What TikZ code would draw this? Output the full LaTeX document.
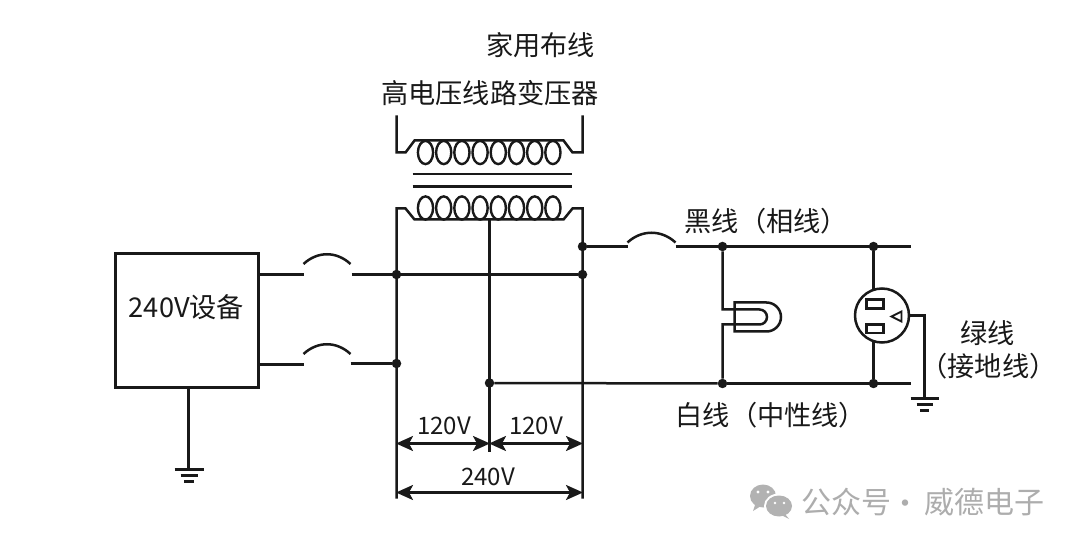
\documentclass[tikz,border=0pt]{standalone}
\usepackage{fontspec}
\setmainfont{Noto Sans CJK SC}
\usetikzlibrary{arrows.meta}
\tikzset{
  wire/.style={line width=2.5pt,line cap=butt,line join=miter,black!90},
  thin wire/.style={line width=2.4pt,black!90},
  dot/.style={circle,fill=black!90,inner sep=0pt,minimum size=9.5pt},
  lbl/.style={inner sep=0pt,font=\fontsize{27.2}{30}\selectfont,text=black!90},
  dimlabel/.style={font=\fontsize{24}{28}\selectfont,inner sep=0pt,text=black!90},
  dimline/.style={line width=2.5pt,black!90,{Stealth[length=17pt,width=15pt,inset=4pt]}-{Stealth[length=17pt,width=15pt,inset=4pt]},shorten >=-0.5pt,shorten <=-0.5pt},
  wmark/.style={font=\fontsize{30}{32}\selectfont,inner sep=0pt,text=black!32},
}
\begin{document}
\begin{tikzpicture}[x=1pt,y=-1pt]
\useasboundingbox (0,0) rectangle (1080,545);
\fill[white] (0,0) rectangle (1080,545);
% labels
\node[lbl] (tHome) at (540.5,45) {家用布线};
\node[lbl] (tTrans) at (490,93) {高电压线路变压器};
\node[lbl] (tDev) at (186.5,307) {240V设备};
\node[lbl,anchor=west] (tBlack) at (684.5,221) {黑线（相线）};
\node[lbl,anchor=west] (tWhite) at (675.5,415) {白线（中性线）};
\node[lbl] (tGreen) at (987.5,333) {绿线};
\node[lbl] (tGnd) at (988.5,366) {（接地线）};
\node[dimlabel] (t120a) at (444,426) {120V};
\node[dimlabel] (t120b) at (536,426) {120V};
\node[dimlabel] (t240) at (488,477) {240V};
\begin{scope}[shift={(0.5,0.5)}]
% junctions
\node[dot] (jA) at (396,274) {};
\node[dot] (jB) at (396,363) {};
\node[dot] (jC) at (582,246) {};
\node[dot] (jD) at (582,274) {};
\node[dot] (jE) at (489,382.5) {};
\node[dot] (jF) at (722,246) {};
\node[dot] (jG) at (873,246) {};
\node[dot] (jH) at (722,383) {};
\node[dot] (jI) at (873,383) {};
% device box
\node[draw,line width=2.5pt,black!90,minimum width=143pt,minimum height=134pt,inner sep=0pt,outer sep=0pt,anchor=north west] (dev) at (115,253) {};
% upper winding
\coordinate (uL) at (396,115); \coordinate (uR) at (582,115);
\draw[wire] (uL) -- (396,152) -- (405,152) -- (414,140) -- (563,140) -- (572,152) -- (582,152) -- (uR);
\foreach \i in {0,...,7} \draw[thin wire] ({425+18.2*\i},152) ellipse (7.6 and 11.6);
% core
\coordinate (c1a) at (412,173.5); \coordinate (c1b) at (571,173.5);
\coordinate (c2a) at (412,186); \coordinate (c2b) at (571,186);
\draw[wire] (c1a) -- (c1b);
\draw[wire] (c2a) -- (c2b);
% lower winding
\coordinate (lL) at (396,498); \coordinate (lR) at (582,498); \coordinate (lM) at (489,219); \coordinate (lMe) at (489,452);
\draw[wire] (lL) -- (396,208) -- (405,208) -- (414,219) -- (563,219) -- (572,208) -- (582,208) -- (lR);
\foreach \i in {0,...,7} \draw[thin wire] ({425+18.2*\i},207.5) ellipse (7.6 and 11.6);
\draw[wire] (lM) -- (lMe);
% 240V feed with fuses
\coordinate (f1a) at (303,274); \coordinate (f1b) at (351,274);
\coordinate (f2a) at (303,364); \coordinate (f2b) at (350,363);
\draw[wire] (258,274) -- (f1a);
\draw[wire] (f1b) -- (jD);
\draw[wire] (258,364) -- (f2a);
\draw[wire] (f2b) -- (jB);
\draw[wire] (303,263.5) .. controls (317,250.5) and (336,250.5) .. (350,263.5);
\draw[wire] (303,353.5) .. controls (317,340.5) and (336,340.5) .. (350,353.5);
% device ground
\coordinate (g1) at (188,469);
\draw[wire] (dev.south west -| g1) -- (g1);
\draw[wire] (174,469) -- (203,469);
\draw[wire] (180,475) -- (197,475);
\draw[wire] (183.5,481) -- (193.5,481);
% house lines
\coordinate (bEnd) at (910,246); \coordinate (wEnd) at (910,383);
\coordinate (f3a) at (627,246); \coordinate (f3b) at (675,246);
\draw[wire] (jC) -- (f3a);
\draw[wire] (f3b) -- (bEnd);
\draw[wire] (jE) -- (jH);
\draw[wire] (jH) -- (wEnd);
\draw[wire] (627,242) .. controls (641,229) and (661,229) .. (675,242);
% lamp
\draw[wire] (jF) -- (722,309) -- (759,309) arc (-90:90:7.5) -- (722,324) -- (jH);
\draw[wire] (766,302) -- (734,302) -- (734,331) -- (766,331) arc (90:-90:14.5);
% outlet
\node[draw,circle,line width=2.5pt,black!90,minimum size=54pt,inner sep=0pt,outer sep=0pt] (out) at (881.5,315) {};
\draw[wire] (jG) -- (873,288.8);
\draw[wire] (jI) -- (873,341.2);
\draw[wire,line width=2.2pt] (866,299) rectangle (883,308);
\draw[wire,line width=2.2pt] (866,324) rectangle (883,332.5);
\draw[wire,line width=1.9pt] (891,316) -- (901,311) -- (901,321) -- cycle;
% outlet ground
\coordinate (g2) at (924,398);
\draw[wire] (out.east) -- (924,315) -- (g2);
\draw[wire] (910,398) -- (938,398);
\draw[wire] (916,404) -- (932,404);
\draw[wire] (919.5,410) -- (928.5,410);
% dimensions
\coordinate (d1) at (396,443); \coordinate (d2) at (489,443); \coordinate (d3) at (582,443);
\coordinate (d4) at (396,492); \coordinate (d5) at (582,492);
\draw[dimline] (d1) -- (d2);
\draw[dimline] (d2) -- (d3);
\draw[dimline] (d4) -- (d5);
\end{scope}
% watermark
\fill[black!30] (763,496) ellipse (13 and 11.5);
\fill[black!30] (755,505) -- (753,511) -- (761,506) -- cycle;
\fill[white] (779,506) ellipse (15 and 12.5);
\fill[black!30] (779,506) ellipse (13 and 10.5);
\fill[black!30] (785,514) -- (789,519) -- (781,515) -- cycle;
\fill[white] (758,492) circle (1.6) (768,492) circle (1.6) (775,503) circle (1.4) (784,503) circle (1.4);
\node[wmark,anchor=west] (wm) at (801,502) {公众号};
\node[wmark] (wmd) at (905.5,507) {·};
\node[wmark,anchor=west] (wm2) at (924,502) {威德电子};
\end{tikzpicture}
\end{document}
